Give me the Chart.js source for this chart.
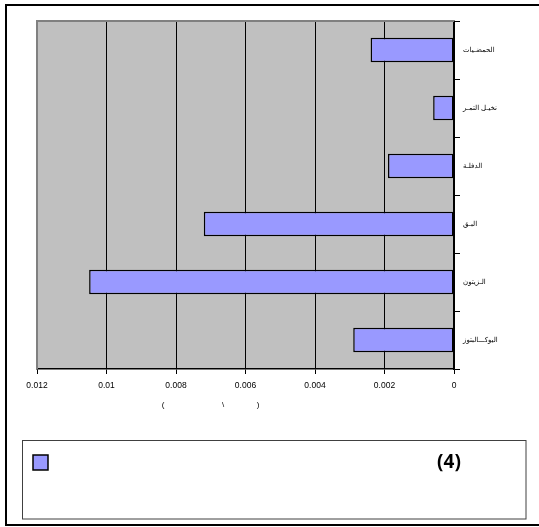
<!DOCTYPE html>
<html>
<head>
<meta charset="utf-8">
<script src="https://cdn.jsdelivr.net/npm/chart.js@4.4.0/dist/chart.umd.min.js"></script>
<style>
  html, body { margin: 0; padding: 0; background: #ffffff; }
  #wrap { width: 539px; height: 527px; position: relative; }
</style>
</head>
<body>
<div id="wrap"><canvas id="c" width="539" height="527"></canvas></div>
<script>
// Data (top to bottom)
const categories = ['الحمضـيات', 'نخيـل التمـر', 'الدفلـة', 'البـق', 'الـزيتون', 'اليوكـــالبتوز'];
const seriesValues = [0.0024, 0.0006, 0.0019, 0.0072, 0.0105, 0.0029];
const seriesLabel = '(4)';
const xTicks = [0, 0.002, 0.004, 0.006, 0.008, 0.01, 0.012];
const axisTitleParts = ['(', '\\', ')'];

const frameAndLegend = {
  id: 'frameAndLegend',
  beforeDraw(chart) {
    const ctx = chart.ctx;
    const a = chart.chartArea;
    ctx.save();
    ctx.fillStyle = '#ffffff';
    ctx.fillRect(0, 0, chart.width, chart.height);
    ctx.fillStyle = '#C0C0C0';
    ctx.fillRect(a.left, a.top, a.right - a.left, a.bottom - a.top);
    ctx.restore();
  },
  afterDraw(chart) {
    const ctx = chart.ctx;
    const a = chart.chartArea;
    ctx.save();
    ctx.strokeStyle = '#808080';
    ctx.lineWidth = 2;
    ctx.beginPath();
    ctx.moveTo(a.left, a.bottom);
    ctx.lineTo(a.left, a.top);
    ctx.lineTo(a.right, a.top);
    ctx.stroke();
    ctx.strokeStyle = '#000000';
    ctx.lineWidth = 2;
    ctx.strokeRect(6, 5, 540, 520);
    ctx.fillStyle = '#000000';
    ctx.font = '8px Arial, "Liberation Sans", "DejaVu Sans", sans-serif';
    ctx.textAlign = 'center';
    ctx.textBaseline = 'middle';
    const px = [163, 223, 258];
    axisTitleParts.forEach((t, i) => ctx.fillText(t, px[i], 405));
    ctx.strokeStyle = '#404040';
    ctx.lineWidth = 1;
    ctx.strokeRect(22.5, 440.5, 503.5, 78.5);
    const ds = chart.data.datasets[0];
    ctx.fillStyle = ds.backgroundColor;
    ctx.fillRect(33, 455, 15, 15);
    ctx.strokeStyle = '#000000';
    ctx.lineWidth = 1.5;
    ctx.strokeRect(33, 455, 15, 15);
    ctx.fillStyle = '#000000';
    ctx.font = 'bold 19px "Noto Sans", "Open Sans", sans-serif';
    ctx.textAlign = 'center';
    ctx.fillText(ds.label, 449, 463);
    ctx.restore();
  }
};

new Chart(document.getElementById('c'), {
  type: 'bar',
  data: {
    labels: categories,
    datasets: [{
      label: seriesLabel,
      data: seriesValues,
      backgroundColor: '#9999FF',
      borderColor: '#000000',
      borderWidth: 1.5,
      borderSkipped: false,
      barPercentage: 0.42,
      categoryPercentage: 1.0
    }]
  },
  options: {
    indexAxis: 'y',
    responsive: false,
    animation: false,
    layout: { padding: { left: 37, top: 21, right: 0, bottom: 0 } },
    plugins: { legend: { display: false }, tooltip: { enabled: false } },
    scales: {
      x: {
        type: 'linear',
        reverse: true,
        min: 0,
        max: 0.012,
        afterBuildTicks(scale) { scale.ticks = xTicks.map(v => ({ value: v })); },
        afterFit(scale) { scale.height = 158; },
        ticks: {
          color: '#000000',
          padding: 7,
          maxRotation: 0,
          font: { family: 'Arial, "Liberation Sans", sans-serif', size: 8.5 },
          callback: (v) => String(Number(Number(v).toFixed(3)))
        },
        grid: {
          color: (c) => (c.tick && c.tick.value === 0.012) ? '#808080' : '#000000',
          lineWidth: 1,
          tickLength: 5,
          tickColor: '#000000'
        },
        border: { display: true, color: '#000000', width: 1.5 }
      },
      y: {
        position: 'right',
        afterFit(scale) { scale.width = 85; },
        ticks: {
          color: '#000000',
          padding: 3,
          font: { family: 'Arial, "DejaVu Sans", sans-serif', size: 7 }
        },
        grid: {
          drawOnChartArea: false,
          drawTicks: true,
          tickLength: 6,
          color: '#000000',
          offset: true
        },
        border: { display: true, color: '#000000', width: 1.5 }
      }
    }
  },
  plugins: [frameAndLegend]
});
</script>
</body>
</html>
